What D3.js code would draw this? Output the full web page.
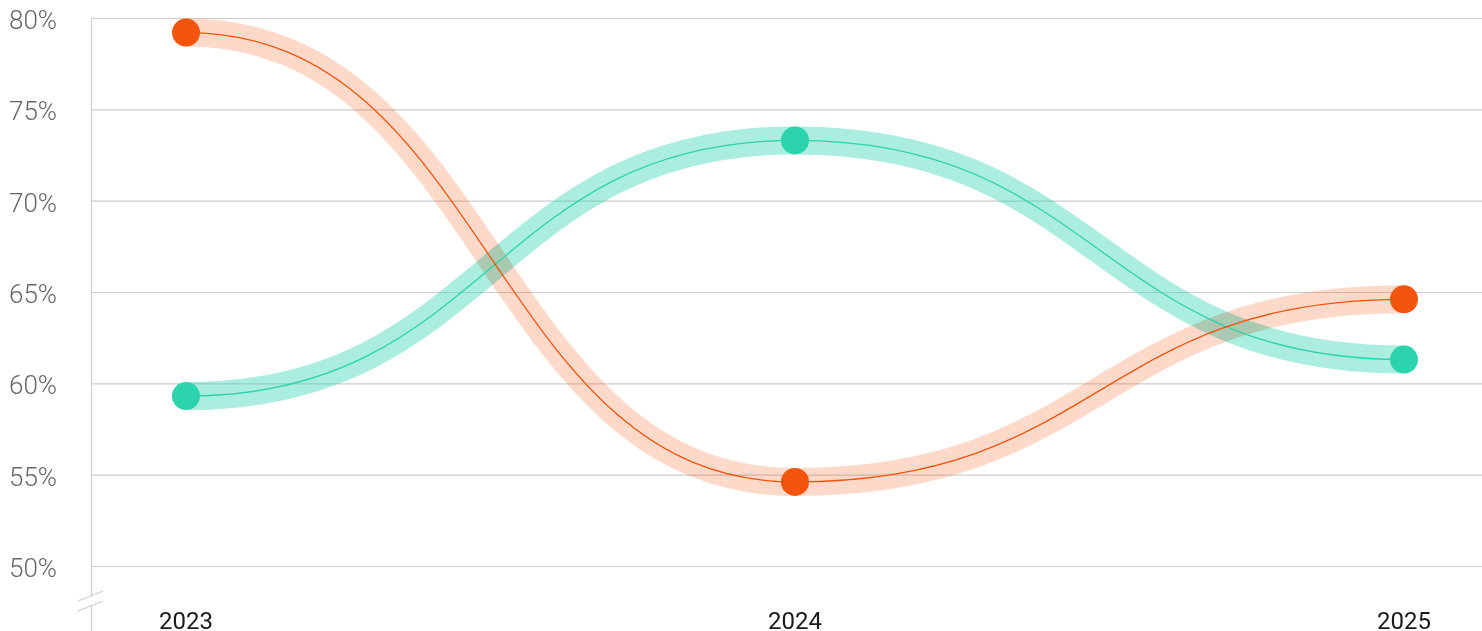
<!DOCTYPE html>
<html><head><meta charset="utf-8">
<script src="https://cdn.jsdelivr.net/npm/d3@7"></script>
<style>
html,body{margin:0;padding:0;background:#fff;}
svg{display:block;}
</style></head>
<body>
<svg id="c" width="1482" height="631"></svg>
<script>
const years = ["2023","2024","2025"];
const orangeValues = [79.2, 54.6, 64.6];
const tealValues = [59.3, 73.3, 61.3];
const yTicks = [50,55,60,65,70,75,80];

(function(){
const svg = d3.select("#c");
const W = 1482, H = 631;
const plotLeft = 91, plotTop = 18, plotBottom = 566;

const x = d3.scalePoint().domain(years).range([186, 1404]);
const y = d3.scaleLinear().domain([50, 80]).range([plotBottom, plotTop]);

const gridColor = "#cdcdcd";
svg.append("g").selectAll("line").data(yTicks).join("line")
  .attr("x1", plotLeft).attr("x2", W)
  .attr("y1", d => y(d) + 0.5).attr("y2", d => y(d) + 0.5)
  .attr("stroke", gridColor).attr("stroke-width", 1.2);

svg.append("line").attr("x1", plotLeft + 0.5).attr("x2", plotLeft + 0.5).attr("y1", plotTop).attr("y2", 597)
  .attr("stroke", gridColor).attr("stroke-width", 1.2);
svg.append("line").attr("x1", plotLeft + 0.5).attr("x2", plotLeft + 0.5).attr("y1", 606).attr("y2", H)
  .attr("stroke", gridColor).attr("stroke-width", 1.2);
svg.append("line").attr("x1", 78).attr("y1", 601).attr("x2", 103).attr("y2", 591)
  .attr("stroke", gridColor).attr("stroke-width", 1.2);
svg.append("line").attr("x1", 78).attr("y1", 611).attr("x2", 103).attr("y2", 601)
  .attr("stroke", gridColor).attr("stroke-width", 1.2);

svg.append("g").selectAll("text").data(yTicks).join("text")
  .attr("x", 9).attr("y", d => y(d) + 11)
  .attr("font-family", "Roboto, 'Open Sans', sans-serif")
  .attr("font-weight", 300)
  .attr("font-size", 26).attr("fill", "#666")
  .text(d => d + "%");

svg.append("g").selectAll("text").data(years).join("text")
  .attr("x", d => x(d)).attr("y", 629).attr("text-anchor", "middle")
  .attr("font-family", "Roboto, 'Open Sans', sans-serif")
  .attr("font-weight", 400)
  .attr("font-size", 24).attr("fill", "#1a1a1a")
  .text(d => d);

const line = d3.line().x((d, i) => x(years[i])).y(d => y(d)).curve(d3.curveBumpX);

const series = [
  {vals: tealValues, color: "#2cd3ac", band: "rgba(44,211,172,0.4)"},
  {vals: orangeValues, color: "#f4540c", band: "rgba(244,84,12,0.22)"}
];

const bands = svg.append("g").style("isolation", "isolate");
series.forEach(s => {
  bands.append("path").attr("d", line(s.vals)).attr("fill", "none")
    .attr("stroke", s.band).attr("stroke-width", 28).style("mix-blend-mode", "multiply");
});
series.forEach(s => {
  svg.append("path").attr("d", line(s.vals)).attr("fill", "none")
    .attr("stroke", s.color).attr("stroke-width", 1.3);
});
series.forEach(s => {
  svg.append("g").selectAll("circle").data(s.vals).join("circle")
    .attr("cx", (d, i) => x(years[i])).attr("cy", d => y(d)).attr("r", 14)
    .attr("fill", s.color);
});
})();
</script>
</body></html>
